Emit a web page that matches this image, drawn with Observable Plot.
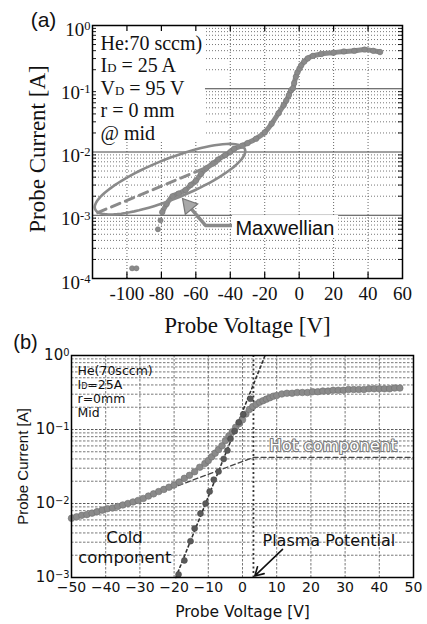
<!DOCTYPE html>
<html><head><meta charset="utf-8">
<script src="https://cdn.jsdelivr.net/npm/d3@7"></script>
<script src="https://cdn.jsdelivr.net/npm/@observablehq/plot@0.6"></script>
<style>
html,body{margin:0;padding:0;background:#fff;}
#wrap{width:427px;height:624px;overflow:hidden;}
#wrap svg{display:block;}
</style></head><body><div id="wrap"></div>
<script>
// ---------- Panel (a) data ----------
const aDotV = [-97, -94.5, -82, -80.5];
const aDotI = [1.45e-4, 1.45e-4, 6.0e-4, 8.3e-4];
const aCurveV = [-79.5,-77,-73.5,-70,-66,-63,-60,-57,-54,-50,-47,-43,-40,-37.8,-33,-30,-25,-20,-16,-12,-9,-7.5,-6,-4.7,-3.6,-2.9,-1.9,-1,0.2,1.2,3,5,8,12.8,20,26,32,38,43,47];
const aCurveI = [1.12e-3,1.5e-3,2.0e-3,2.2e-3,2.5e-3,3.0e-3,3.5e-3,4.5e-3,5.5e-3,6.6e-3,7.6e-3,8.9e-3,1.0e-2,1.12e-2,1.26e-2,1.38e-2,1.62e-2,2.04e-2,2.8e-2,4.1e-2,5.5e-2,6.5e-2,7.9e-2,0.095,0.102,0.123,0.155,0.182,0.209,0.234,0.269,0.302,0.331,0.355,0.372,0.389,0.398,0.417,0.398,0.380];
const maxwellV = [-117, -45];
const maxwellI = [1.1e-3, 7.2e-3];
const xTicksA = [-100,-80,-60,-40,-20,0,20,40,60];
const yTicksA = [1e-4,1e-3,1e-2,1e-1,1];
const infoA = ["He:70 sccm)", "I_D = 25 A", "V_D = 95 V", "r = 0 mm", "@ mid"];
// ellipse annotation (centre and semi-axes in volts / decades)
const ellA = {cV: -75, cL: -2.43, aV: 43.5, aL: 0.474, bV: 4.3, bL: -0.294};
const maxLabel = {text: "Maxwellian", V: -37, I: 6.2e-4, boxV1: -38.7, boxV2: 22.9, boxI1: 4.45e-4, boxI2: 9.9e-4};
const maxArrowPath = [{V: -38.7, I: 6.9e-4}, {V: -54.4, I: 6.9e-4}, {V: -64.25, I: 1.42e-3}];
const infoBoxA = [{x1: -120, x2: -54.4, y1: 0.0145, y2: 1}];

// ---------- Panel (b) data ----------
const bV = [-50,-48.5,-47,-45.5,-44,-42.5,-41,-39.5,-38,-36.5,-35,-33.5,-32,-30.5,-29,-27.5,-26,-24.5,-23,-21.5,-20,-18.5,-17,-15.5,-14,-12.5,-11,-10,-9,-8,-7,-6,-5,-4,-3,-2,-1,0,1,2,3,4,5,6,7,8,9,10,11.5,13,14.5,16,17.5,19,20.5,22,23.5,25,26.5,28,29.5,31,32.5,34,35.5,37,38.5,40,41.5,43,44.5,46];
const bI = [0.00631,0.00661,0.00692,0.00708,0.00741,0.00776,0.00813,0.00851,0.00871,0.00912,0.00955,0.0100,0.0105,0.0110,0.0117,0.0126,0.0135,0.0145,0.0155,0.0166,0.0178,0.0195,0.0219,0.0240,0.0269,0.0309,0.0347,0.0380,0.0427,0.0479,0.0537,0.0603,0.0708,0.0813,0.0933,0.107,0.120,0.135,0.162,0.186,0.204,0.219,0.234,0.245,0.257,0.269,0.282,0.288,0.302,0.309,0.309,0.316,0.316,0.316,0.324,0.324,0.331,0.331,0.339,0.339,0.339,0.347,0.347,0.347,0.347,0.355,0.355,0.355,0.355,0.355,0.363,0.363];
const coldV = [-18.7,-17,-15.2,-14,-12.3,-10.8,-9.6,-8.4,-7,-5.5,-4.4,-3.5,-2.3,-1.1,0.2,2.3];
const coldI = [1.1e-3,1.7e-3,3.1e-3,4.6e-3,7.3e-3,0.010,0.0145,0.021,0.027,0.040,0.052,0.075,0.095,0.125,0.16,0.26];
const coldFitV = [-19.5, 6.6];
const coldFitI = [1e-3, 1];
const hotV = [-21, 3.2, 50];
const hotI = [0.016, 0.042, 0.042];
const plasmaPotential = 3.2;
const xTicksB = [-50,-40,-30,-20,-10,0,10,20,30,40,50];
const yTicksB = [1e-3,1e-2,1e-1,1];
const infoB = ["He(70sccm)", "I_D=25A", "r=0mm", "Mid"];
const plasmaArrow = [{x1: 11.7, y1: 2.4e-3, x2: 3.6, y2: 1.05e-3}];

const minorOf = (lo, hi) => d3.range(lo, hi).flatMap(e => d3.range(2, 10).map(k => k * Math.pow(10, e)));
const minorA = minorOf(-4, 0);
const minorB = minorOf(-3, 0);

const ellipsePts = d3.range(0, 361, 4).map(deg => {
  const t = deg * Math.PI / 180;
  return {V: ellA.cV + ellA.aV * Math.cos(t) + ellA.bV * Math.sin(t),
          I: Math.pow(10, ellA.cL + ellA.aL * Math.cos(t) + ellA.bL * Math.sin(t))};
});

function richify(svg) {
  d3.select(svg).selectAll("text").each(function() {
    if (this.querySelector("tspan")) return;
    const t = this.textContent;
    if (!/[\^_]/.test(t)) return;
    const parts = t.split(/(\^\S+|_[A-Za-z])/).filter(s => s !== "");
    const el = d3.select(this);
    el.text(null);
    for (const p of parts) {
      if (p[0] === "^") el.append("tspan").attr("dy", "-0.45em").attr("font-size", "0.66em").text(p.slice(1));
      else if (p[0] === "_") el.append("tspan").attr("font-size", "0.64em").text(p.slice(1));
      else el.append("tspan").text(p);
    }
  });
}

const serif = "Liberation Serif";
const gray = "#8a8a8a";
const M = {lineAnchor: "middle"};

const chartA = Plot.plot({
  width: 427, height: 335,
  marginLeft: 92, marginRight: 25, marginTop: 25, marginBottom: 57,
  style: {fontFamily: serif, background: "white", overflow: "visible"},
  x: {domain: [-120, 60], label: null},
  y: {type: "log", domain: [1e-4, 1], label: null},
  marks: [
    Plot.ruleY(minorA, {stroke: "#666", strokeWidth: 0.9, strokeDasharray: "1,2"}),
    Plot.ruleX(xTicksA.slice(0, -1), {stroke: "#555", strokeWidth: 0.9, strokeDasharray: "1,2"}),
    Plot.ruleY([1e-3, 1e-2, 1e-1], {stroke: "#444", strokeWidth: 1.1}),
    Plot.rect(infoBoxA, {x1: "x1", x2: "x2", y1: "y1", y2: "y2", fill: "white"}),
    // inward ticks
    Plot.tickX(xTicksA.slice(0, -1), {x: d => d, insetTop: 247, stroke: "black", strokeWidth: 1.2}),
    Plot.tickX(xTicksA.slice(0, -1), {x: d => d, insetBottom: 247, stroke: "black", strokeWidth: 1.2}),
    Plot.tickY(minorA, {y: d => d, insetRight: 306, stroke: "black", strokeWidth: 0.9}),
    Plot.tickY(minorA, {y: d => d, insetLeft: 306, stroke: "black", strokeWidth: 0.9}),
    // data
    Plot.line(aCurveV, {x: d => d, y: (d, i) => aCurveI[i], stroke: gray, strokeWidth: 5, curve: "catmull-rom", strokeLinecap: "round", strokeLinejoin: "round"}),
    Plot.dot(aCurveV, {x: d => d, y: (d, i) => aCurveI[i], r: 2.8, fill: gray, stroke: "#777", strokeWidth: 0.5}),
    Plot.dot(aDotV, {x: d => d, y: (d, i) => aDotI[i], r: 2.6, fill: gray, stroke: "#777", strokeWidth: 0.5}),
    // annotations
    Plot.line(ellipsePts, {x: "V", y: "I", stroke: gray, strokeWidth: 2.6}),
    Plot.line(maxwellV, {x: d => d, y: (d, i) => maxwellI[i], stroke: gray, strokeWidth: 3, strokeDasharray: "9,6"}),
    Plot.line(maxArrowPath, {x: "V", y: "I", stroke: gray, strokeWidth: 3.5, strokeLinejoin: "round"}),
    Plot.dot([maxArrowPath[2]], {x: "V", y: "I", symbol: "triangle", r: 6, rotate: -40, fill: "#a8a8a8", stroke: "#777", strokeWidth: 1.2}),
    Plot.rect([maxLabel], {x1: "boxV1", x2: "boxV2", y1: "boxI1", y2: "boxI2", fill: "white"}),
    Plot.text([maxLabel], {x: "V", y: "I", text: "text", textAnchor: "start", fontFamily: "Liberation Sans", fontSize: 20, fill: "#111"}),
    ...infoA.map((t, i) => Plot.text([t], {...M, frameAnchor: "top-left", dx: 8, dy: 18 + i * 22.5, textAnchor: "start", fontSize: 20, fill: "#111"})),
    Plot.frame({stroke: "black", strokeWidth: 1.5}),
    Plot.axisX(xTicksA, {tickSize: 0, tickPadding: 8, fontSize: 19, tickFormat: d => String(d), label: null, fill: "#111"}),
    Plot.axisY(yTicksA, {tickSize: 0, tickPadding: 2, fontSize: 19, dy: 4, tickFormat: d => "10^" + String(Math.round(Math.log10(d))), label: null, fill: "#111"}),
    Plot.text(["Probe Voltage [V]"], {...M, frameAnchor: "bottom", textAnchor: "middle", dy: 47, fontSize: 23, fill: "#111"}),
    Plot.text(["Probe Current [A]"], {...M, frameAnchor: "left", textAnchor: "middle", dx: -55, dy: -3, rotate: -90, fontSize: 23, fill: "#111"}),
    Plot.text(["(a)"], {...M, frameAnchor: "top-left", textAnchor: "middle", dx: -49, dy: -5, fontFamily: "Liberation Sans", fontSize: 21, fill: "#111"})
  ]
});

const sans = "DejaVu Sans";
const chartB = Plot.plot({
  width: 427, height: 289,
  marginLeft: 71, marginRight: 14, marginTop: 20, marginBottom: 47,
  style: {fontFamily: sans, background: "white", overflow: "visible"},
  x: {domain: [-50, 50], label: null},
  y: {type: "log", domain: [1e-3, 1], label: null},
  marks: [
    Plot.ruleY(minorB, {stroke: "#555", strokeWidth: 0.8, strokeDasharray: "2.5,1.5"}),
    Plot.ruleY([1e-2, 1e-1], {stroke: "#444", strokeWidth: 0.9, strokeDasharray: "2.5,1.5"}),
    Plot.ruleX(xTicksB.slice(1, -1), {stroke: "#555", strokeWidth: 0.8, strokeDasharray: "2.5,1.5"}),
    Plot.ruleX([plasmaPotential], {stroke: "#333", strokeWidth: 1.8, strokeDasharray: "2,2.5"}),
    Plot.line(coldFitV, {x: d => d, y: (d, i) => coldFitI[i], stroke: "#333", strokeWidth: 1.6, strokeDasharray: "2.5,3"}),
    Plot.line(hotV, {x: d => d, y: (d, i) => hotI[i], stroke: "#444", strokeWidth: 1.3, strokeDasharray: "5,3"}),
    Plot.dot(bV, {x: d => d, y: (d, i) => bI[i], r: 3.3, fill: gray, stroke: "#707070", strokeWidth: 0.6}),
    Plot.dot(coldV, {x: d => d, y: (d, i) => coldI[i], r: 3, fill: "#5a5a5a", stroke: "#444", strokeWidth: 0.5}),
    Plot.text(["Hot component"], {x: 26.5, y: 0.0608, fill: "white", stroke: "#7a7a7a", strokeWidth: 2.2, fontSize: 16.5}),
    Plot.text(["Cold"], {x: -34.5, y: 3.47e-3, fontSize: 16.5, fill: "#111"}),
    Plot.text(["component"], {x: -34.4, y: 1.86e-3, fontSize: 16.5, fill: "#111"}),
    Plot.text(["Plasma Potential"], {x: 5.85, y: 3.16e-3, textAnchor: "start", fontSize: 16, fill: "#111"}),
    Plot.arrow(plasmaArrow, {x1: "x1", y1: "y1", x2: "x2", y2: "y2", stroke: "#111", strokeWidth: 1.6, headLength: 9}),
    ...infoB.map((t, i) => Plot.text([t], {...M, frameAnchor: "top-left", dx: 6, dy: 15 + i * 14, textAnchor: "start", fontSize: 12.5, fill: "#111"})),
    Plot.frame({stroke: "black", strokeWidth: 1.5}),
    Plot.axisX(xTicksB, {tickSize: 0, tickPadding: 5, fontSize: 14, tickFormat: d => d < 0 ? "\u2212" + (-d) : String(d), label: null, fill: "#111"}),
    Plot.axisY(yTicksB, {tickSize: 0, tickPadding: 2, fontSize: 15, tickFormat: d => { const e = Math.round(Math.log10(d)); return "10^" + (e < 0 ? "\u2212" + (-e) : String(e)); }, label: null, fill: "#111"}),
    Plot.text(["Probe Voltage [V]"], {...M, frameAnchor: "bottom", textAnchor: "middle", dy: 35, fontSize: 15.5, fill: "#111"}),
    Plot.text(["Probe Current [A]"], {...M, frameAnchor: "left", textAnchor: "middle", dx: -48, rotate: -90, fontFamily: "Liberation Sans", fontSize: 15, fill: "#111"}),
    Plot.text(["(b)"], {...M, frameAnchor: "top-left", textAnchor: "middle", dx: -46, dy: -13, fontFamily: "Liberation Sans", fontSize: 20, fill: "#111"})
  ]
});

richify(chartA);
richify(chartB);
document.getElementById("wrap").append(chartA, chartB);
</script></body></html>
